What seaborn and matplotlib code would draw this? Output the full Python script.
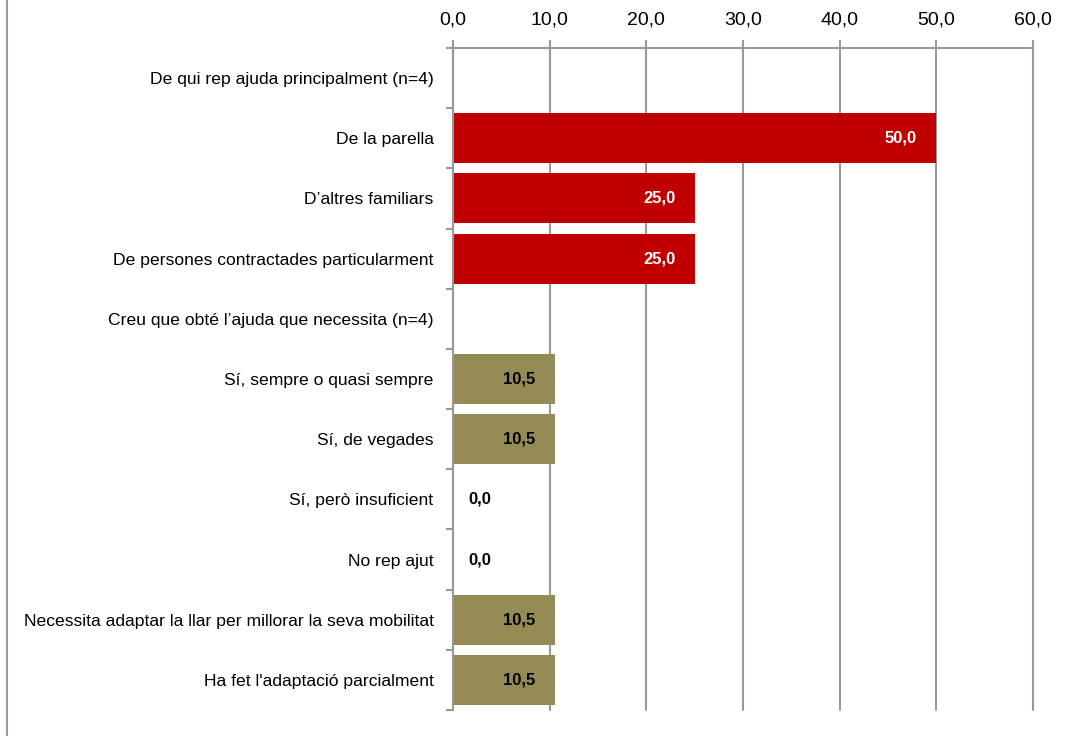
import numpy as np
import pandas as pd
import matplotlib
matplotlib.use("Agg")
import matplotlib.pyplot as plt
import matplotlib.ticker as mticker
import seaborn as sns

categorias = [
    "De qui rep ajuda principalment (n=4)",
    "De la parella",
    "D\u2019altres familiars",
    "De persones contractades particularment",
    "Creu que obt\u00e9 l\u2019ajuda que necessita (n=4)",
    "S\u00ed, sempre o quasi sempre",
    "S\u00ed, de vegades",
    "S\u00ed, per\u00f2 insuficient",
    "No rep ajut",
    "Necessita adaptar la llar per millorar la seva mobilitat",
    "Ha fet l'adaptaci\u00f3 parcialment",
]
valors = [np.nan, 50.0, 25.0, 25.0, np.nan, 10.5, 10.5, 0.0, 0.0, 10.5, 10.5]
grups = ["ajuda", "ajuda", "ajuda", "ajuda", "creu", "creu", "creu", "creu", "creu", "creu", "creu"]
colors_grup = {"ajuda": "#C00000", "creu": "#948A54"}
color_text = {"ajuda": "white", "creu": "black"}
xticks = [0, 10, 20, 30, 40, 50, 60]

df = pd.DataFrame({"categoria": categorias, "valor": valors, "grup": grups})

sns.set_style("white")
plt.rcParams["font.family"] = ["Liberation Sans Narrow", "Liberation Sans", "DejaVu Sans"]
plt.rcParams["text.color"] = "black"

gris = "#999999"
fig = plt.figure(figsize=(10.72, 7.36), dpi=100)
ax = fig.add_axes([453 / 1072, 1 - 710 / 736, (1033 - 453) / 1072, (710 - 48) / 736])

sns.barplot(
    data=df.dropna(), y="categoria", x="valor", hue="grup", order=categorias,
    palette=colors_grup, dodge=False, legend=False, width=0.83, ax=ax,
    saturation=1, linewidth=0,
)

ax.set_xlim(0, 60)
ax.set_ylim(len(categorias) - 0.5, -0.5)
ax.set_xticks(xticks)
ax.xaxis.set_major_formatter(mticker.FuncFormatter(lambda x, _: f"{x:.1f}".replace(".", ",")))
ax.xaxis.tick_top()
ax.set_xlabel("")
ax.set_ylabel("")
ax.set_axisbelow(True)
ax.grid(axis="x", color=gris, linewidth=1.5)
ax.grid(axis="y", visible=False)
for linia in ax.get_xgridlines():
    linia.set_clip_on(False)

ax.tick_params(axis="x", which="major", top=True, length=6, width=1.5, color=gris,
               labelsize=14, pad=8, labelcolor="black")
ax.tick_params(axis="y", which="major", length=0, labelsize=12.6, pad=14, labelcolor="black")
ax.set_yticks(np.arange(-0.5, len(categorias), 1), minor=True)
ax.tick_params(axis="y", which="minor", left=True, length=5, width=1.5, color=gris)

for lado in ["right", "bottom"]:
    ax.spines[lado].set_visible(False)
for lado in ["top", "left"]:
    ax.spines[lado].set_color(gris)
    ax.spines[lado].set_linewidth(1.5)

for i, (v, g) in enumerate(zip(valors, grups)):
    if np.isnan(v):
        continue
    etiqueta = f"{v:.1f}".replace(".", ",")
    if v > 0:
        ax.annotate(etiqueta, (v, i), xytext=(-14, 0), textcoords="offset points",
                    ha="right", va="center", fontsize=12, fontweight="bold",
                    color=color_text[g])
    else:
        ax.annotate(etiqueta, (v, i), xytext=(11, 0), textcoords="offset points",
                    ha="left", va="center", fontsize=12, fontweight="bold",
                    color="black")

fig.add_artist(plt.Line2D([7 / 1072, 7 / 1072], [0, 1], color=gris, linewidth=1.5,
                          transform=fig.transFigure))

fig.savefig("out.png", dpi=100)
